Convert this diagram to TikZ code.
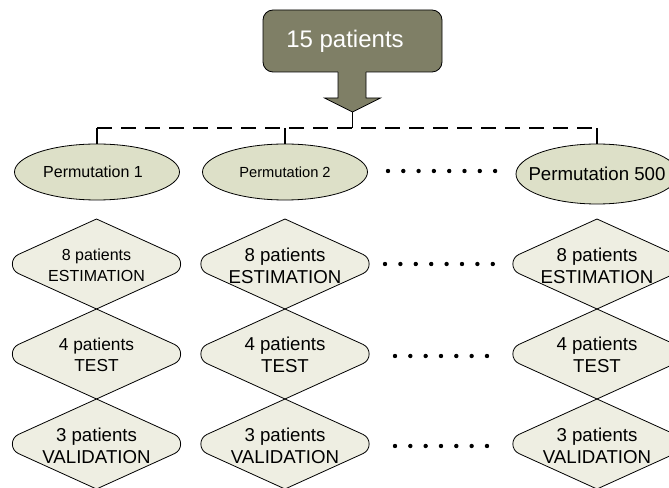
\documentclass[tikz,border=0pt]{standalone}
\usepackage{fontspec}
\setmainfont{Liberation Sans}
\usetikzlibrary{shapes.geometric}
\definecolor{boxfill}{HTML}{7F7F66}
\definecolor{ellfill}{HTML}{DDE0C8}
\definecolor{diafill}{HTML}{EEEEE2}
\begin{document}
\begin{tikzpicture}[x=0.75pt,y=-0.75pt,
  perm/.style={ellipse, draw=black, fill=ellfill, line width=0.6pt, minimum width=123.75pt, minimum height=42pt, inner sep=0pt},
  diashape/.style={draw=black, fill=diafill, line width=0.6pt},
  lbl/.style={align=center, inner sep=0pt},
  conn/.style={draw=black, line width=1.2pt},
  busline/.style={conn, dash pattern=on 11pt off 7pt},
  diam/.pic={\path[diashape] (0,-45) -- (-78,-9.6) .. controls (-86.2,-5.9) and (-86.2,5.9) .. (-78,9.6) -- (0,45) -- (78,9.6) .. controls (86.2,5.9) and (86.2,-5.9) .. (78,-9.6) -- cycle;}]
\useasboundingbox (0,0) rectangle (669,488);

% callout box with arrow
\node[draw=black, fill=boxfill, line width=0.6pt, rounded corners=7.5pt, minimum width=134.25pt, minimum height=46.5pt, inner sep=0pt] (box) at (352.5,41) {};
\fill[boxfill] (338,68) -- (338,98) -- (324.5,98) -- (352.5,112) -- (380.5,98) -- (366,98) -- (366,68) -- cycle;
\draw[line width=0.6pt] (338,72) -- (338,98) -- (324.5,98) -- (352.5,112) -- (380.5,98) -- (366,98) -- (366,72);
\node[text=white, inner sep=0pt, font=\fontsize{18}{21}\selectfont] (boxtext) at (345,41.5) {15 patients};
\coordinate (tip) at (352.5,112);
\coordinate (busmid) at (352.5,128);

% permutations
\node[perm, label={[font=\fontsize{12}{14}\selectfont, xshift=-3pt]center:Permutation 1}] (p1) at (97,172) {};
\node[perm, label={[font=\fontsize{11}{13}\selectfont]center:Permutation 2}] (p2) at (285,172) {};
\node[perm, minimum width=121.5pt, minimum height=45pt, label={[font=\fontsize{14}{16}\selectfont]center:Permutation 500}] (p500) at (597,174) {};

% bus
\draw[conn] (tip) -- (busmid);
\draw[busline] (p1.north |- busmid) -- (p500.north |- busmid);
\draw[conn] (p1.north) -- (p1.north |- busmid);
\draw[conn] (p2.north) -- (p2.north |- busmid);
\draw[conn] (p500.north) -- (p500.north |- busmid);

% diamonds
\foreach \cx in {96.5,285,597}{
  \foreach \cy in {264,354,444}{
    \pic at (\cx,\cy) {diam};
  }
}
\node[lbl, font=\fontsize{12}{15.5}\selectfont] (e1) at (96.5,265.5) {8 patients\\ESTIMATION};
\node[lbl, font=\fontsize{13}{16}\selectfont] (t1) at (96.5,354.5) {4 patients\\TEST};
\node[lbl, font=\fontsize{14}{16.5}\selectfont] (v1) at (96.5,445.5) {3 patients\\VALIDATION};
\node[lbl, font=\fontsize{14}{16.5}\selectfont] (e2) at (285,265.5) {8 patients\\ESTIMATION};
\node[lbl, font=\fontsize{14}{16.5}\selectfont] (t2) at (285,354.5) {4 patients\\TEST};
\node[lbl, font=\fontsize{14}{16.5}\selectfont] (v2) at (285,445.5) {3 patients\\VALIDATION};
\node[lbl, font=\fontsize{14}{16.5}\selectfont] (e3) at (597,265.5) {8 patients\\ESTIMATION};
\node[lbl, font=\fontsize{14}{16.5}\selectfont] (t3) at (597,354.5) {4 patients\\TEST};
\node[lbl, font=\fontsize{14}{16.5}\selectfont] (v3) at (597,445.5) {3 patients\\VALIDATION};

% dots
\foreach \i in {0,...,7}{
  \fill (388+\i*15.3,171) circle (1.65pt);
  \fill (385+\i*15.4,264) circle (1.65pt);
}
\foreach \i in {0,...,6}{
  \fill (395+\i*15.33,356) circle (1.65pt);
  \fill (395+\i*15.33,446) circle (1.65pt);
}
\end{tikzpicture}
\end{document}
